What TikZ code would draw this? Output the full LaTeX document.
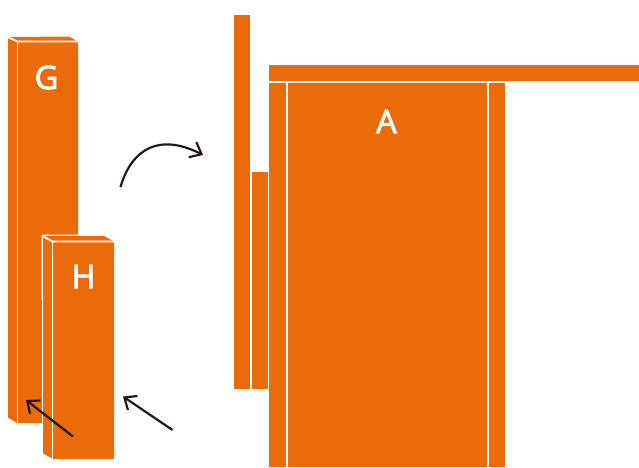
\documentclass[tikz,border=0pt]{standalone}
\usepackage{fontspec}
\setmainfont{Open Sans}
\newfontfamily\letterfont[FakeBold=2.6]{Open Sans}
\usetikzlibrary{arrows.meta}
\definecolor{barorange}{HTML}{EA6B0A}
\definecolor{inkdark}{HTML}{231815}
\tikzset{
  edgeline/.style={white,line width=1.8pt},
  letter/.style={text=white,font=\letterfont\fontsize{32.5}{32.5}\selectfont,inner sep=0pt,draw=none},
  pointer/.style={draw=inkdark,line width=2.2pt,-{Straight Barb[length=10pt,width=17pt,line width=2.2pt]}}
}
\begin{document}
\begin{tikzpicture}[x=1pt,y=-1pt]
\useasboundingbox (0,0) rectangle (639,467);
% G block
\fill[barorange] (8,37) -- (69,36.5) -- (78,41.5) -- (78,423) -- (17,423) -- (8,417.5) -- cycle;
\draw[edgeline] (7.5,37) -- (17.5,41.5) -- (78.5,41.5);
\draw[edgeline] (17.5,41.5) -- (17.5,423.5);
% H block
\fill[white] (41.5,234.5) -- (104,234.5) -- (115,241) -- (115,300) -- (41.5,300) -- cycle;
\fill[white] (41.5,300) rectangle (52,440);
\fill[barorange] (43.2,236) -- (104,236) -- (114,241.5) -- (114,459) -- (53,459) -- (43.2,453.5) -- cycle;
\draw[edgeline] (42.5,236) -- (52.5,241.5) -- (114.5,241.5);
\draw[edgeline] (52.5,241.5) -- (52.5,459.5);
% right assembly
\fill[barorange] (234,15) rectangle (250.2,389);
\fill[barorange] (251.6,172) rectangle (268,389);
\fill[barorange] (269,65) rectangle (639,81);
\fill[barorange] (269,82.5) rectangle (286,467);
\fill[barorange] (287.6,82.5) rectangle (487,467);
\fill[barorange] (488.6,82.5) rectangle (505,467);
\node[letter] (g) at (46.5,77.5) {G};
\node[letter] (h) at (83.5,276.5) {H};
\node[letter] (a) at (386.5,121.5) {A};
\coordinate (c1s) at (120.5,187);
\coordinate (c1e) at (203,155);
\coordinate (a1s) at (73,436.5);
\coordinate (a1e) at (26,400);
\coordinate (a2s) at (172.5,430);
\coordinate (a2e) at (123,396.5);
\draw[pointer] (c1s) .. controls (132,148) and (160,133) .. (c1e);
\draw[pointer] (a1s) -- (a1e);
\draw[pointer] (a2s) -- (a2e);
\end{tikzpicture}
\end{document}
